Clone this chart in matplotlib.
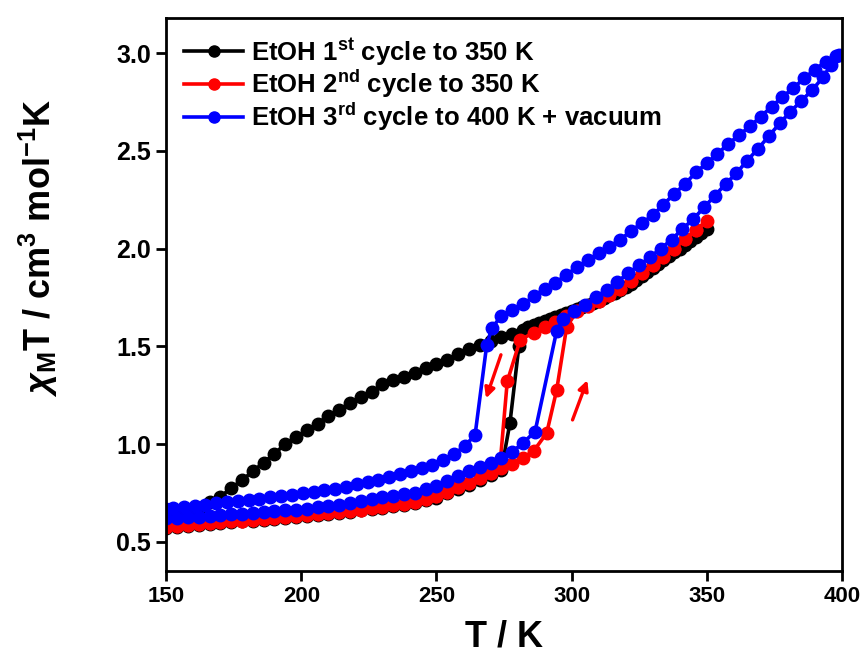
import matplotlib
matplotlib.use("Agg")
import matplotlib.pyplot as plt
from matplotlib.lines import Line2D

plt.rcParams.update({
    "font.family": ["Liberation Sans", "DejaVu Sans"],
    "font.weight": "bold",
    "mathtext.fontset": "custom",
    "mathtext.rm": "Liberation Sans:bold",
    "mathtext.bf": "Liberation Sans:bold",
    "mathtext.it": "Liberation Sans:italic:bold",
})

# ---- 1st cycle (black) ----
t_black_heat = [150, 154, 158, 162, 166, 170, 174, 178, 182, 186, 190, 194, 198, 202, 206, 210,
                214, 218, 222, 226, 230, 234, 238, 242, 246, 250, 254, 258, 262, 266, 270, 274,
                277.2, 280.5,
                284, 288, 292, 296, 300, 304, 308, 312, 316, 320, 324, 328, 332, 336, 340, 344, 348, 350]
chi_black_heat = [0.570, 0.576, 0.582, 0.587, 0.591, 0.596, 0.600, 0.604, 0.608, 0.612, 0.616, 0.621,
                  0.627, 0.633, 0.638, 0.643, 0.649, 0.654, 0.660, 0.666, 0.673, 0.681, 0.690, 0.700,
                  0.712, 0.726, 0.748, 0.770, 0.792, 0.815, 0.840, 0.865,
                  1.108, 1.50,
                  1.598, 1.62, 1.64, 1.66, 1.68, 1.70, 1.72, 1.745, 1.775, 1.805, 1.84, 1.88, 1.92,
                  1.96, 2.00, 2.04, 2.08, 2.10]
t_black_cool = [346, 342, 338, 334, 330, 326, 322, 318, 314, 310, 306, 302, 298, 294, 290, 286,
                282, 278, 274, 270, 266, 262, 258, 254, 250, 246, 242, 238, 234, 230, 226, 222,
                218, 214, 210, 206, 202, 198, 194, 190, 186, 182, 178, 174, 170, 166, 162, 158,
                154, 150]
chi_black_cool = [2.06, 2.02, 1.98, 1.94, 1.90, 1.86, 1.82, 1.79, 1.76, 1.73, 1.71, 1.69, 1.67, 1.65,
                  1.63, 1.61, 1.585, 1.565, 1.545, 1.525, 1.507, 1.485, 1.46, 1.43, 1.41, 1.39,
                  1.365, 1.345, 1.325, 1.305, 1.265, 1.24, 1.21, 1.175, 1.145, 1.105, 1.07, 1.035,
                  1.00, 0.95, 0.905, 0.86, 0.815, 0.775, 0.73, 0.705, 0.675, 0.65, 0.625, 0.605]

# ---- 2nd cycle (red) ----
t_red_heat = [150, 154, 158, 162, 166, 170, 174, 178, 182, 186, 190, 194, 198, 202, 206, 210,
              214, 218, 222, 226, 230, 234, 238, 242, 246, 250, 254, 258, 262, 266, 270, 274,
              278, 282, 286,
              290.8, 294.5, 298.2,
              302, 306, 310, 314, 318, 322, 326, 330, 334, 338, 342, 346, 350]
chi_red_heat = [0.575, 0.580, 0.586, 0.591, 0.595, 0.600, 0.604, 0.608, 0.612, 0.616, 0.620, 0.626,
                0.632, 0.638, 0.643, 0.648, 0.654, 0.659, 0.665, 0.671, 0.678, 0.686, 0.695, 0.706,
                0.718, 0.732, 0.757, 0.778, 0.800, 0.826, 0.852, 0.876, 0.900, 0.930, 0.965,
                1.056, 1.277, 1.60,
                1.68, 1.705, 1.73, 1.76, 1.795, 1.833, 1.875, 1.915, 1.958, 2.00, 2.05, 2.095, 2.14]
t_red_cool = [346, 342, 338, 334, 330, 326, 322, 318, 314, 310, 306, 302, 298, 294, 290, 286, 281,
              276.2, 273.5,
              270, 266, 262, 258, 254, 250, 246, 242, 238, 234, 230, 226, 222, 218, 214, 210,
              206, 202, 198, 194, 190, 186, 182, 178, 174, 170, 166, 162, 158, 154, 150]
chi_red_cool = [2.095, 2.05, 2.00, 1.958, 1.915, 1.875, 1.833, 1.795, 1.76, 1.73, 1.705, 1.68, 1.655,
                1.625, 1.60, 1.57, 1.533,
                1.32, 0.89,
                0.852, 0.826, 0.800, 0.778, 0.757, 0.732, 0.718, 0.706, 0.695, 0.686, 0.678, 0.671,
                0.665, 0.659, 0.654, 0.648, 0.643, 0.638, 0.632, 0.626, 0.620, 0.616, 0.612, 0.608,
                0.604, 0.600, 0.595, 0.591, 0.586, 0.580, 0.575]

# ---- 3rd cycle (blue) ----
t_blue_heat = [150, 154, 158, 162, 166, 170, 174, 178, 182, 186, 190, 194, 198, 202, 206, 210,
               214, 218, 222, 226, 230, 234, 238, 242, 246, 250, 254, 258, 262, 266, 270, 274,
               278, 282,
               286.5, 294.5,
               297, 301, 305, 309, 313, 317, 321, 325, 329, 333, 337, 341, 345, 349, 353, 357,
               361, 365, 369, 373, 377, 381, 385, 389, 393, 396, 399]
chi_blue_heat = [0.620, 0.623, 0.626, 0.629, 0.633, 0.637, 0.640, 0.644, 0.648, 0.651, 0.655, 0.660,
                 0.665, 0.670, 0.676, 0.681, 0.690, 0.700, 0.710, 0.720, 0.728, 0.736, 0.744, 0.752,
                 0.768, 0.785, 0.810, 0.835, 0.860, 0.885, 0.905, 0.928, 0.960, 1.005,
                 1.064, 1.58,
                 1.64, 1.68, 1.71, 1.75, 1.79, 1.83, 1.875, 1.915, 1.955, 2.00, 2.045, 2.10, 2.15,
                 2.21, 2.27, 2.33, 2.385, 2.45, 2.51, 2.575, 2.64, 2.70, 2.755, 2.81, 2.875, 2.94,
                 2.99]
t_blue_cool = [398, 394, 390, 386, 382, 378, 374, 370, 366, 362, 358, 354, 350, 346, 342, 338,
               334, 330, 326, 322, 318, 314, 310, 306, 302, 298, 294, 290, 286, 282, 278, 274,
               270.5, 268.6, 264.3,
               260.5, 256.5, 252.5, 248.5, 244.5, 240.5, 236.5, 232.5, 228.5, 224.5, 220.5, 216.5,
               212.5, 208.5, 204.5, 200.5, 196.5, 192.5, 188.5, 184.5, 180.5, 176.5, 172.5, 168.5,
               164.5, 160.5, 156.5, 152.5, 150]
chi_blue_cool = [2.985, 2.955, 2.915, 2.87, 2.82, 2.775, 2.725, 2.675, 2.625, 2.58, 2.535, 2.485,
                 2.436, 2.39, 2.33, 2.28, 2.225, 2.17, 2.13, 2.09, 2.045, 2.01, 1.975, 1.94, 1.905,
                 1.865, 1.825, 1.795, 1.755, 1.715, 1.685, 1.655,
                 1.593, 1.507, 1.047,
                 0.99, 0.948, 0.92, 0.895, 0.875, 0.86, 0.845, 0.83, 0.817, 0.805, 0.793, 0.782,
                 0.772, 0.763, 0.755, 0.747, 0.740, 0.733, 0.727, 0.72, 0.714, 0.708, 0.703, 0.697,
                 0.690, 0.684, 0.678, 0.672, 0.668]

labels = [r"EtOH 1$^{\mathbf{st}}$ cycle to 350 K",
          r"EtOH 2$^{\mathbf{nd}}$ cycle to 350 K",
          r"EtOH 3$^{\mathbf{rd}}$ cycle to 400 K + vacuum"]
colors = ["black", "red", "blue"]

# arrow positions (T, chi): start -> end
arrow_down = ((274.2, 1.47), (268.0, 1.22))
arrow_up = ((300.0, 1.11), (306.2, 1.34))

fig = plt.figure(figsize=(8.66, 6.61), dpi=100)
ax = fig.add_axes([0.192, 0.136, 0.780, 0.837])

series = [
    (t_black_heat + t_black_cool, chi_black_heat + chi_black_cool),
    (t_red_heat + t_red_cool, chi_red_heat + chi_red_cool),
    (t_blue_heat + t_blue_cool, chi_blue_heat + chi_blue_cool),
]
for (t, chi), c in zip(series, colors):
    ax.plot(t, chi, color=c, lw=2.6, marker="o", ms=9, mec=c, mfc=c)

for (x0, y0), (x1, y1) in (arrow_down, arrow_up):
    ax.annotate("", xy=(x1, y1), xytext=(x0, y0),
                arrowprops=dict(arrowstyle="-|>", color="red", lw=2.4, mutation_scale=15))

handles = [Line2D([], [], color=c, lw=2.6, marker="o", ms=8) for c in colors]
ax.legend(handles, labels, loc="upper left", frameon=False,
          handlelength=2.3, handletextpad=0.3, labelspacing=0.02,
          borderaxespad=0.3, prop={"weight": "bold", "size": 18.5})

ax.set_xlim(150, 400)
ax.set_ylim(0.35, 3.18)
ax.set_xticks([150, 200, 250, 300, 350, 400])
ax.set_yticks([0.5, 1.0, 1.5, 2.0, 2.5, 3.0])
ax.yaxis.set_major_formatter(plt.FormatStrFormatter("%.1f"))
ax.tick_params(axis="both", direction="out", length=7, width=2, pad=4)
ax.tick_params(axis="x", labelsize=16)
ax.tick_params(axis="y", labelsize=18)
ax.tick_params(top=False, right=False)
for s in ax.spines.values():
    s.set_linewidth(2)

ax.set_xlabel("T / K", fontsize=26, fontweight="bold")
ax.xaxis.set_label_coords(0.5, -0.088)
ax.set_ylabel(r"$\chi_{\mathbf{M}}$T / cm$^{\mathbf{3}}$ mol$^{\mathbf{-1}}$K",
              fontsize=26, fontweight="bold")
ax.yaxis.set_label_coords(-0.157, 0.584)

fig.savefig("out.png", dpi=100)
